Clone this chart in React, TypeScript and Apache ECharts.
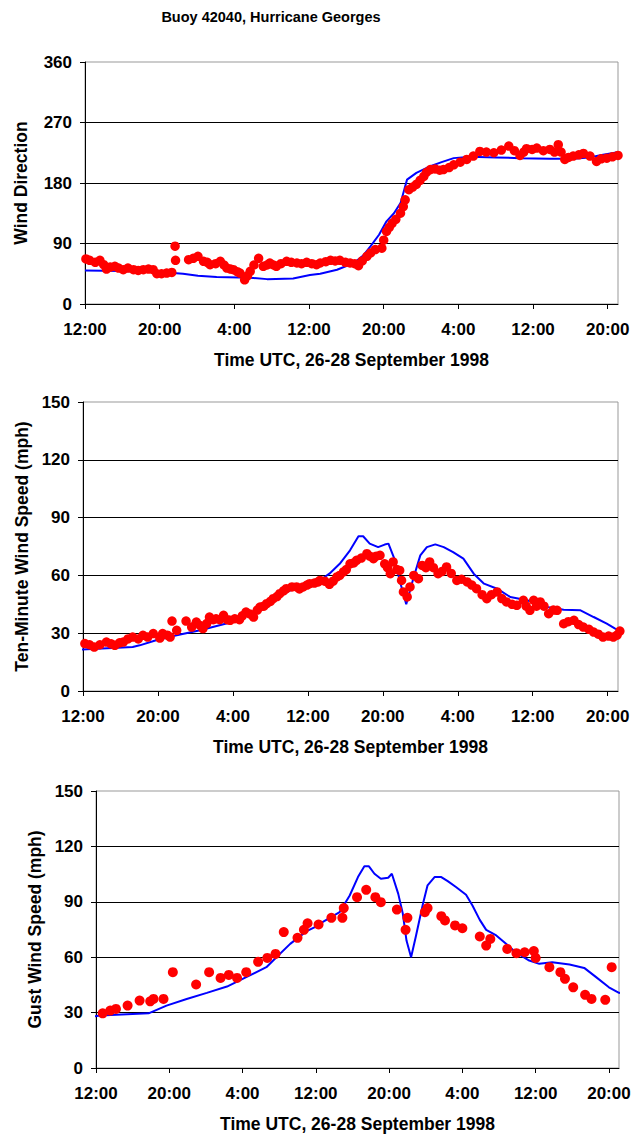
import React, { useEffect, useRef } from 'react';
import * as echarts from 'echarts';

const FONT = '"Liberation Sans", Arial, Helvetica, sans-serif';

// Time axis: hours after 12:00 UTC, 26 September 1998
const TICK_HOURS = [0, 8, 16, 24, 32, 40, 48, 56];
const X_MAX = 57.1;

// ---- Chart 1: Wind Direction ----
const dirObsHours = [0.1, 0.5, 1.1, 1.6, 2.0, 2.3, 2.7, 3.2, 3.6, 4.1, 4.6, 5.2, 5.7, 6.25, 6.8, 7.3, 7.7, 8.2, 8.75, 9.3, 9.65, 9.7,
  11.1, 11.6, 12.1, 12.7, 13.1, 13.4, 14.0, 14.5, 14.9, 15.2, 15.6, 15.9, 16.3, 16.6, 17.1, 17.4, 17.7, 18.1, 18.6, 19.1, 19.5, 19.8,
  20.2, 20.5, 21.0, 21.6, 22.1, 22.7, 23.2, 23.75, 24.3, 24.8, 25.2, 25.8, 26.3, 26.8, 27.3, 27.9, 28.4, 28.9, 29.3, 29.7, 30.2, 30.6,
  31.1, 31.8, 32.0, 32.3, 32.6, 32.9, 33.3, 33.8, 34.1, 34.3, 34.7, 35.1, 35.5, 35.9, 36.3, 36.6, 37.0, 37.5, 38.0, 38.4, 39.0, 39.5,
  40.2, 40.9, 41.6, 42.3, 43.0, 43.8, 44.6, 45.4, 46.0, 46.6, 47.0, 47.3, 47.9, 48.4, 49.1, 49.8, 50.3, 50.7, 51.0, 51.4, 51.8, 52.3,
  52.9, 53.4, 54.1, 54.8, 55.3, 55.9, 56.5, 57.1];
const dirObsValues = [67, 65, 62, 65, 58.5, 52, 55, 56, 53.5, 51, 53.5, 51, 50, 51, 52, 51, 45, 45, 46, 47, 86, 65,
  66, 68, 71, 63.5, 62, 58.5, 60, 63.5, 58, 53.5, 52, 51, 48, 46, 36, 42, 48.6, 58, 68, 56, 58, 61,
  58, 56, 60, 63.5, 62, 61, 60, 62, 60, 58.5, 61, 63, 65, 64, 65, 62, 61, 60, 57, 64, 71, 76,
  81, 83, 95, 108, 114, 120, 126, 135, 145, 155, 170, 174, 178, 184, 190, 196, 200, 201, 199, 200, 203, 207,
  211, 215, 220, 227, 226, 225, 229, 235, 228, 221, 226, 231, 230, 232, 228, 230, 226, 237, 226, 215, 218, 220,
  222, 224, 220, 212, 216, 217, 219, 221];
const dirModelHours = [0, 4, 8.75, 10.5, 12.1, 14.1, 17.7, 19.5, 22.3, 24.1, 25.2, 27, 28.8, 29.8, 30.6, 31.5, 32.3, 33.1, 33.8,
  34.2, 34.5, 35.5, 37, 38.2, 39.5, 41.3, 44, 46.6, 49.8, 52.3, 54, 55.5, 57.6];
const dirModelValues = [50, 49, 47, 45, 42, 40, 39, 37, 38, 43, 45, 51, 61, 72, 86, 103, 123, 135, 150,
  170, 185, 195, 205, 211, 217, 219, 218, 217, 216, 216, 218, 222, 227];

// ---- Chart 2: Ten-Minute Wind Speed (mph) ----
const spdObsHours = [0.2, 0.7, 1.2, 1.8, 2.5, 3.0, 3.4, 3.9, 4.3, 4.8, 5.3, 5.9, 6.4, 6.9, 7.5, 8.2, 8.5, 9.0, 9.3, 9.5, 10,
  11, 11.6, 12.1, 12.5, 12.8, 13.2, 13.5, 13.9, 14.2, 14.6, 15, 15.4, 15.7, 16.2, 16.7, 17.0, 17.4, 17.8, 18.2, 18.6, 18.9, 19.3,
  19.6, 20.0, 20.3, 20.7, 21, 21.4, 21.7, 22.3, 22.8, 23.1, 23.5, 23.9, 24.2, 24.7, 25.1, 25.3, 25.8, 26.3, 26.7, 27.1, 27.4, 27.8,
  28.1, 28.5, 28.9, 29.2, 29.7, 30.3, 30.6, 31, 31.3, 31.7, 32.2, 32.5, 32.8, 33.1, 33.5, 33.8, 34, 34.2, 34.6, 34.9, 35.3, 35.8,
  36.2, 36.6, 37, 37.4, 37.9, 38.3, 38.8, 39.3, 39.9, 40.4, 41, 41.5, 42, 42.6, 43.1, 43.6, 44.2, 44.7, 45.2, 45.8, 46.3, 47, 47.3,
  47.7, 48.1, 48.4, 48.8, 49.2, 49.7, 50.2, 50.6, 51.3, 51.8, 52.4, 52.9, 53.4, 54.0, 54.5, 55, 55.5, 56.1, 56.6, 57, 57.3];
const spdObsValues = [24.6, 24, 22.8, 24, 25.4, 24.5, 23.7, 25, 25.4, 27, 28, 27, 28.9, 28, 29.8, 27.5, 29.8, 29, 28, 36.3, 31.5,
  36.3, 33.2, 35.8, 34, 32.4, 35, 38.4, 37, 37.5, 37, 39.3, 37, 36.7, 37.5, 37, 39, 41, 40, 38.4, 42, 43.6, 44,
  45.3, 46.5, 47.9, 49, 50.5, 52, 53.1, 54, 54, 53, 54, 55, 55.7, 56, 56.6, 57.4, 57, 55.4, 57, 59.2, 60, 61.8,
  63, 66, 66.5, 67.8, 69, 71.3, 70, 68.7, 70, 70.4, 66, 64, 60.9, 67, 63, 62.6, 57.4, 51.4, 48.8, 54, 60, 58.3,
  65.2, 64, 67, 64, 60.9, 62, 64.4, 61, 57.4, 58, 56.6, 55, 53.1, 50, 47.9, 50, 51.4, 48, 46.2, 45, 44.5, 47.1, 44,
  41.9, 47.1, 44, 46.2, 44, 40.1, 42, 41.9, 34.9, 36, 36.7, 34.5, 33.2, 32, 30.6, 29.5, 28, 28.5, 28, 29, 31.1];
const spdModelHours = [-0.46, 5.3, 6.05, 7.8, 10, 12.5, 15.3, 17.5, 20, 22, 24, 25.3, 26.3, 27.4, 28.5, 29.4, 29.9, 30.6, 31.5,
  32.2, 32.6, 33.3, 33.8, 34.5, 35.3, 36, 36.7, 37.6, 38.5, 39.5, 40.6, 41.7, 42.8, 44.2, 45.6, 47.4, 49.5, 51.3, 53.1, 54.5,
  55.9, 56.8, 57.7];
const spdModelValues = [21.5, 22.8, 23.7, 26.3, 28.9, 31.5, 35, 39, 46, 52, 55, 57.5, 60.9, 66, 73, 80.3, 80.3, 76.5, 74.7,
  76, 76.5, 67.8, 57.4, 45, 59.2, 70.4, 74.7, 76.1, 74.7, 72.1, 68.7, 60.9, 55.7, 53.1, 48.8, 47.1, 43.6, 42.2, 41.9, 38.4,
  35, 32.4, 30.6];

// ---- Chart 3: Gust Wind Speed (mph) ----
const gustObsHours = [0.73, 1.56, 2.18, 3.45, 4.76, 5.92, 6.28, 7.37, 8.39, 10.93, 12.35, 13.6, 14.5, 15.4, 16.4, 17.7, 18.7,
  19.6, 20.5, 22, 22.7, 23.1, 24.3, 25.7, 26.9, 27.05, 28.5, 29.5, 30.5, 31.1, 32.85, 33.8, 34, 35.9, 36.2, 37.7, 38.1, 39.2,
  40, 41.9, 42.6, 43.05, 44.9, 45.9, 46.8, 47.8, 48, 49.5, 50.7, 51.2, 52.1, 53.4, 54.1, 55.6, 56.3];
const gustObsValues = [29.6, 31.1, 32, 33.8, 36.5, 36.1, 37.4, 37.4, 51.9, 45.2, 51.9, 48.8, 50.4, 48.8, 51.9, 57.5, 59.6,
  61.8, 73.6, 70.5, 74.8, 78.4, 77.7, 81.3, 81.3, 86.6, 92.5, 96.5, 92.5, 89.8, 85.8, 74.8, 81.3, 84.4, 86.6, 82.2, 79.9, 77.2,
  75.7, 71.2, 66.3, 69.9, 64.5, 62.2, 62.7, 63.3, 59.6, 54.6, 51.9, 48.3, 43.7, 39.6, 37.4, 36.9, 54.6];
const gustModelHours = [-0.8, 0.47, 5.74, 7.7, 9.9, 12.1, 14.3, 16.4, 18.6, 19.7, 21.2, 23, 23.9, 24.4, 26.6, 27.7, 28.6, 29.3,
  29.8, 30.4, 31.1, 31.9, 32.3, 33, 33.5, 33.9, 34.4, 34.9, 35.7, 36.2, 36.96, 37.7, 38.4, 39.3, 40.4, 41.1, 41.9, 42.6, 43.7,
  44.8, 45.8, 47.3, 48.4, 49.8, 51.7, 53.3, 54.6, 56, 57.1, 58];
const gustModelValues = [27.5, 28.4, 29.6, 33.8, 37.4, 40.7, 44.1, 49.2, 54.6, 60, 67.2, 74.1, 76.3, 78.1, 84.4, 93.4, 103.4, 109.2,
  109.2, 105.2, 102.5, 103, 105.2, 94.3, 83.5, 69, 60, 70.8, 88.9, 98.9, 103.4, 103.4, 101.2, 98, 93.8, 88, 80.2, 74.8, 71.8,
  67.2, 62.7, 58.2, 56.4, 57.3, 56, 54.2, 49.2, 43.7, 40.7, 40.5];

const Y_DIR_MAX = 360;
const Y_DIR_INTERVAL = 90;
const Y_SPD_MAX = 150;
const Y_SPD_INTERVAL = 30;

const X_TITLE = 'Time UTC, 26-28 September 1998';
const CHART_TITLE = 'Buoy 42040, Hurricane Georges';

const pairs = (xs: number[], ys: number[]) => xs.map((x, i) => [x, ys[i]]);
const hourLabel = (h: number) => `${(12 + h) % 24}:00`;

export default function App() {
  const ref = useRef<HTMLDivElement>(null);

  useEffect(() => {
    if (!ref.current) return;
    const chart = echarts.init(ref.current, undefined, { renderer: 'svg' });

    const grids = [
      { left: 85, top: 62, width: 533, height: 242 },
      { left: 83, top: 402, width: 535, height: 289 },
      { left: 96, top: 791, width: 523, height: 277 },
    ];
    const yNames = ['Wind Direction', 'Ten-Minute Wind Speed (mph)', 'Gust Wind Speed (mph)'];
    const yNameGaps = [55, 52, 52];
    const yMax = [Y_DIR_MAX, Y_SPD_MAX, Y_SPD_MAX];
    const yInt = [Y_DIR_INTERVAL, Y_SPD_INTERVAL, Y_SPD_INTERVAL];

    const labelStyle = { fontFamily: FONT, fontWeight: 'bold' as const, fontSize: 17, color: '#000' };
    const nameStyle = { fontFamily: FONT, fontWeight: 'bold' as const, fontSize: 17.5, color: '#000' };

    const xAxis = grids.map((_, i) => ({
      type: 'value',
      gridIndex: i,
      min: 0,
      max: X_MAX,
      axisLine: { show: true, onZero: false, lineStyle: { color: '#000', width: 1 } },
      axisTick: { show: true, length: 5, inside: false, customValues: TICK_HOURS, lineStyle: { color: '#000' } },
      axisLabel: { ...labelStyle, margin: 17, customValues: TICK_HOURS, formatter: (v: number) => hourLabel(v) },
      splitLine: { show: false },
      name: X_TITLE,
      nameLocation: 'middle',
      nameGap: 47,
      nameTextStyle: nameStyle,
    }));

    const yAxis = grids.map((_, i) => ({
      type: 'value',
      gridIndex: i,
      min: 0,
      max: yMax[i],
      interval: yInt[i],
      axisLine: { show: true, lineStyle: { color: '#000', width: 1 } },
      axisTick: { show: true, length: 5, inside: false, lineStyle: { color: '#000' } },
      axisLabel: { ...labelStyle, margin: 13 },
      splitLine: { show: true, showMinLine: false, showMaxLine: false, lineStyle: { color: '#000', width: 1 } },
      name: yNames[i],
      nameLocation: 'middle',
      nameGap: yNameGaps[i],
      nameRotate: 90,
      nameTextStyle: nameStyle,
    }));

    const lineSeries = (i: number, data: number[][]) => ({
      type: 'line',
      xAxisIndex: i,
      yAxisIndex: i,
      data,
      showSymbol: false,
      symbol: 'none',
      smooth: false,
      clip: false,
      lineStyle: { color: '#0000ff', width: 2 },
      z: 2,
    });
    const dotSeries = (i: number, data: number[][], size: number) => ({
      type: 'scatter',
      xAxisIndex: i,
      yAxisIndex: i,
      data,
      symbol: 'circle',
      symbolSize: size,
      clip: false,
      itemStyle: { color: '#ff0000', opacity: 1 },
      z: 3,
    });

    chart.setOption({
      animation: false,
      backgroundColor: '#ffffff',
      textStyle: { fontFamily: FONT },
      grid: grids.map((g) => ({ ...g, show: true, borderColor: '#999999', borderWidth: 1, backgroundColor: 'transparent' })),
      xAxis,
      yAxis,
      graphic: [
        {
          type: 'text',
          x: 271,
          y: 17,
          style: {
            text: CHART_TITLE, fontFamily: FONT, fontWeight: 'bold', fontSize: 14.5, fill: '#000',
            align: 'center', verticalAlign: 'middle',
          },
        },
      ],
      series: [
        lineSeries(0, pairs(dirModelHours, dirModelValues)),
        dotSeries(0, pairs(dirObsHours, dirObsValues), 9.5),
        lineSeries(1, pairs(spdModelHours, spdModelValues)),
        dotSeries(1, pairs(spdObsHours, spdObsValues), 9.5),
        lineSeries(2, pairs(gustModelHours, gustModelValues)),
        dotSeries(2, pairs(gustObsHours, gustObsValues), 10),
      ],
    });

    return () => chart.dispose();
  }, []);

  return (
    <div
      ref={ref}
      style={{ position: 'absolute', left: 0, top: 0, width: 641, height: 1135, background: '#fff' }}
    />
  );
}
